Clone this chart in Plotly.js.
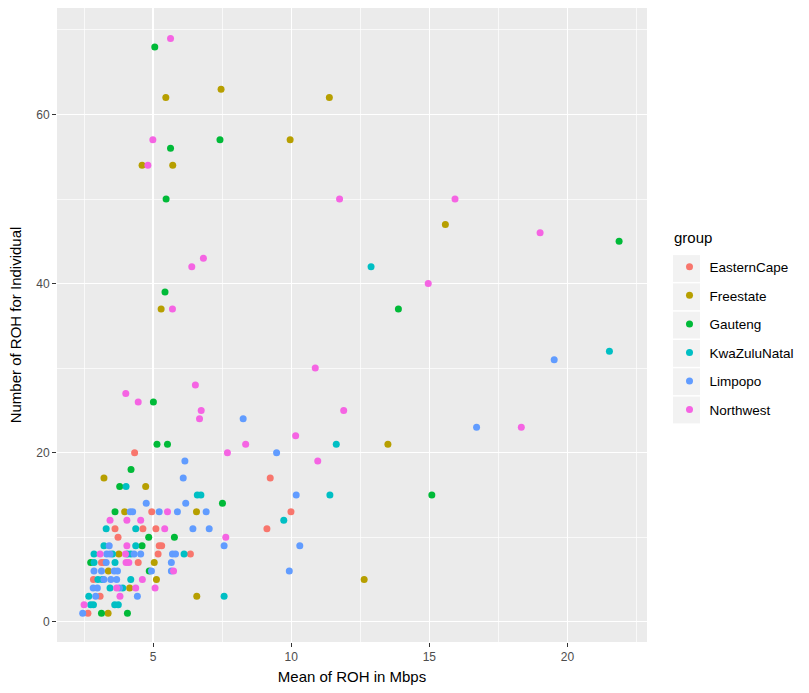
<!DOCTYPE html>
<html>
<head>
<meta charset="utf-8">
<script src="https://cdn.plot.ly/plotly-3.0.1.min.js"></script>
<style>html,body{margin:0;padding:0;background:#fff;}#chart{width:809px;height:693px;}</style>
</head>
<body>
<div id="chart"></div>
<script>
// ---- data ----
const groups = ["EasternCape", "Freestate", "Gauteng", "KwaZuluNatal", "Limpopo", "Northwest"];
const colors = ["#F8766D", "#B79F00", "#00BA38", "#00BFC4", "#619CFF", "#F564E3"];
const legendTitle = "group";

const easternCapeX = [4.33, 9.24, 9.99, 4.95, 3.62, 4.63, 5.10, 9.12, 3.73, 5.22, 5.31, 5.18, 6.35, 3.22, 3.13, 4.46, 2.84, 3.08, 2.64];
const easternCapeY = [20, 17, 13, 13, 11, 11, 11, 11, 10, 9, 9, 8, 8, 7, 7, 7, 5, 3, 1];

const freestateX = [7.46, 5.46, 11.38, 9.96, 4.60, 5.71, 15.58, 5.29, 13.50, 12.64, 3.22, 4.73, 3.97, 6.57, 3.76, 5.04, 3.38, 5.12, 4.15, 6.58, 3.37];
const freestateY = [63, 62, 62, 57, 54, 54, 47, 37, 21, 5, 17, 16, 13, 13, 8, 7, 6, 5, 4, 3, 1];

const gautengX = [5.06, 7.42, 5.63, 5.47, 21.87, 5.43, 13.88, 5.01, 5.14, 5.52, 15.09, 4.20, 3.79, 3.62, 7.51, 4.84, 5.77, 4.60, 2.74, 4.86, 3.13, 4.07];
const gautengY = [68, 57, 56, 50, 45, 39, 37, 26, 21, 21, 15, 18, 16, 13, 14, 10, 10, 9, 7, 6, 1, 1];

const kwaZuluNatalX = [12.89, 21.52, 11.63, 11.40, 9.73, 7.57, 4.02, 6.60, 6.73, 3.30, 4.37, 3.22, 4.37, 2.86, 3.53, 4.07, 4.19, 6.12, 2.86, 3.62, 3.00, 3.16, 4.19, 3.44, 3.90, 2.67, 2.74, 2.84, 3.61, 3.74];
const kwaZuluNatalY = [42, 32, 21, 15, 12, 3, 16, 15, 15, 11, 11, 9, 9, 8, 8, 8, 8, 8, 7, 7, 5, 5, 5, 4, 4, 3, 2, 2, 2, 2];

const limpopoX = [19.52, 16.71, 8.26, 9.47, 10.18, 10.31, 9.93, 6.15, 6.09, 4.75, 6.18, 4.17, 4.26, 5.22, 5.88, 6.92, 6.44, 7.03, 3.41, 7.57, 3.32, 3.44, 4.31, 4.55, 5.70, 5.81, 3.30, 5.66, 2.86, 3.13, 3.59, 3.71, 4.94, 5.66, 3.22, 3.47, 3.68, 2.83, 2.98, 3.78, 4.43, 2.92, 2.45];
const limpopoY = [31, 23, 24, 20, 15, 9, 6, 19, 17, 14, 14, 13, 13, 13, 13, 13, 11, 11, 9, 9, 8, 8, 8, 8, 8, 8, 7, 7, 6, 6, 6, 6, 6, 6, 5, 5, 5, 4, 4, 4, 3, 3, 1];

const northwestX = [5.63, 4.99, 4.81, 11.75, 15.93, 19.01, 6.82, 6.40, 5.70, 14.96, 10.87, 6.53, 4.01, 4.46, 6.74, 6.68, 11.90, 18.33, 10.16, 8.35, 7.69, 10.96, 5.52, 3.44, 4.05, 4.55, 5.42, 7.63, 4.05, 3.08, 4.00, 4.02, 4.12, 5.74, 4.61, 3.68, 4.37, 5.07, 3.80, 2.50];
const northwestY = [69, 57, 54, 50, 50, 46, 43, 42, 37, 40, 30, 28, 27, 26, 25, 24, 25, 23, 22, 21, 20, 19, 13, 12, 12, 12, 11, 10, 9, 8, 8, 7, 7, 6, 5, 4, 4, 4, 3, 2];

const xTicks = [5, 10, 15, 20];
const xMinor = [2.5, 7.5, 12.5, 17.5, 22.5];
const yTicks = [0, 20, 40, 60];
const yMinor = [10, 30, 50, 70];

// ---- build traces ----
const xs = [easternCapeX, freestateX, gautengX, kwaZuluNatalX, limpopoX, northwestX];
const ys = [easternCapeY, freestateY, gautengY, kwaZuluNatalY, limpopoY, northwestY];
const traces = groups.map((g, i) => ({
  type: "scatter",
  mode: "markers",
  name: g,
  legendgroup: g,
  x: xs[i],
  y: ys[i],
  marker: { color: colors[i], size: 7 }
}));

// legend key background boxes (ggplot style)
const plotL = 57, plotR = 647, plotT = 8, plotB = 642;
const pw = plotR - plotL, ph = plotB - plotT;
const shapes = groups.map((g, i) => {
  const cy = 268.5 + i * 28.3;
  return {
    type: "rect", xref: "paper", yref: "paper", layer: "above",
    x0: (673 - plotL) / pw, x1: (700 - plotL) / pw,
    y0: (plotB - (cy + 13.4)) / ph, y1: (plotB - (cy - 13.4)) / ph,
    fillcolor: "#F2F2F2", line: { width: 0 }
  };
});

const font = "Liberation Sans, Arial, Helvetica, sans-serif";
const layout = {
  width: 809, height: 693,
  margin: { l: plotL, r: 809 - plotR, t: plotT, b: 693 - plotB, pad: 0 },
  paper_bgcolor: "#FFFFFF",
  plot_bgcolor: "#EBEBEB",
  font: { family: font, color: "#000000" },
  showlegend: true,
  shapes: shapes,
  annotations: [{
    text: legendTitle, xref: "paper", yref: "paper",
    x: (672 - plotL) / pw, y: (plotB - 238) / ph,
    xanchor: "left", yanchor: "middle", showarrow: false,
    font: { size: 15, color: "#000000", family: font }
  }],
  xaxis: {
    range: [1.52, 22.88],
    tickvals: xTicks, ticktext: xTicks.map(String),
    ticks: "outside", ticklen: 4, tickwidth: 1, tickcolor: "#333333",
    tickfont: { size: 12, color: "#4D4D4D", family: font },
    showgrid: true, gridcolor: "#FFFFFF", gridwidth: 1.4,
    minor: { tickvals: xMinor, showgrid: true, gridcolor: "#FFFFFF", gridwidth: 0.7, ticks: "" },
    zeroline: false, showline: false,
    title: { text: "Mean of ROH in Mbps", font: { size: 15, color: "#000000", family: font }, standoff: 8 }
  },
  yaxis: {
    range: [-2.4, 72.6],
    tickvals: yTicks, ticktext: yTicks.map(String),
    ticks: "outside", ticklen: 4, tickwidth: 1, tickcolor: "#333333",
    tickfont: { size: 12, color: "#4D4D4D", family: font },
    showgrid: true, gridcolor: "#FFFFFF", gridwidth: 1.4,
    minor: { tickvals: yMinor, showgrid: true, gridcolor: "#FFFFFF", gridwidth: 0.7, ticks: "" },
    zeroline: false, showline: false,
    title: { text: "Number of ROH for Individual", font: { size: 15, color: "#000000", family: font }, standoff: 10 }
  },
  legend: {
    font: { size: 13.5, color: "#000000", family: font },
    bgcolor: "rgba(0,0,0,0)",
    x: (669.5 - plotL) / pw, xanchor: "left",
    y: (plotB - 251.5) / ph, yanchor: "top",
    traceorder: "grouped",
    tracegroupgap: 8,
    itemclick: false
  }
};

Plotly.newPlot("chart", traces, layout, { displayModeBar: false, staticPlot: true });
</script>
</body>
</html>
